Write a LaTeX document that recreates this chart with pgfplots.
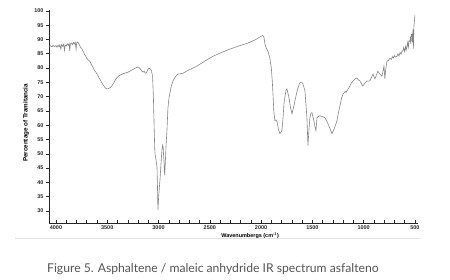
\documentclass[border=0pt]{standalone}
\usepackage{fontspec}
\setmainfont{Liberation Sans}
\newfontfamily\capfont{Lato}
\usepackage{pgfplots}
\pgfplotsset{compat=1.18}
\definecolor{spec}{HTML}{858585}
\definecolor{capgray}{HTML}{555555}
\begin{document}
\begin{tikzpicture}
\path[use as bounding box] (-49bp,-57bp) rectangle (401bp,223bp);
\begin{axis}[
  name=ax, at={(0,0)}, anchor=south west,
  scale only axis, width=369bp, height=213bp,
  x dir=reverse, xmin=470, xmax=4068, ymin=25.8, ymax=100.3,
  axis x line*=bottom, axis y line*=left,
  axis line style={line width=0.7bp, black!85},
  xtick={500,1000,...,4000}, minor x tick num=4,
  ytick={30,35,...,100},
  xtick align=inside, ytick align=outside,
  major tick length=2.5bp, minor tick length=2.5bp,
  tick style={line width=0.5bp, black!85},
  tick label style={font=\bfseries\fontsize{5.5}{6}\selectfont, text=black!85},
  xticklabel style={yshift=0.8bp},
  yticklabel style={xshift=0.5bp},
  /pgf/number format/assume math mode=true,
  /pgf/number format/set thousands separator={},
  xlabel={Wavenumbergs (cm\textsuperscript{-1})},
  xlabel style={at={(axis description cs:0.545,0)}, anchor=north, yshift=-6.5bp, font=\bfseries\fontsize{5.5}{6}\selectfont},
  ylabel={Percentage of Tramitancia},
  ylabel style={at={(ticklabel cs:0.47)}, anchor=south, font=\bfseries\fontsize{6.3}{7}\selectfont, yshift=-1.5bp},
  clip=false,
]
\addplot[spec, line width=0.6bp] coordinates {
(4068,87.6) (4055,87.8) (4040,87.4) (4028,87.9) (4015,87.5) (4000,87.9) (3990,87.3) (3980,88.0) (3970,87.4) (3962,88.1) (3952,86.6) (3945,88.2) (3935,87.6) (3925,88.3) (3917,86.2) (3910,88.0) (3900,87.7) (3890,88.5) (3880,87.9) (3872,88.6) (3866,85.9) (3860,88.4) (3850,88.8) (3840,88.2) (3830,88.9) (3820,88.4) (3812,89.0) (3804,86.6) (3798,88.8) (3788,89.1) (3778,88.6) (3768,87.8) (3758,87.2) (3748,86.8) (3737,85.9) (3728,85.4) (3720,84.6) (3712,84.4) (3700,83.4) (3690,83.0) (3680,82.6) (3669,82.4) (3655,81.2) (3640,80.4) (3625,79.2) (3610,78.5) (3600,77.9) (3585,76.9) (3570,76.0) (3552,74.8) (3535,73.8) (3518,73.0) (3503,72.7) (3488,72.8) (3470,73.2) (3454,73.8) (3435,74.9) (3420,75.9) (3405,76.6) (3385,77.3) (3365,77.7) (3345,78.0) (3320,78.3) (3295,78.6) (3279,78.9) (3260,79.3) (3240,79.7) (3220,80.1) (3205,80.3) (3192,80.2) (3180,79.8) (3168,79.2) (3158,78.8) (3150,78.6) (3140,78.9) (3130,78.2) (3118,78.3) (3108,79.2) (3098,79.8) (3088,79.9) (3078,79.6) (3068,79.0) (3058,77.0) (3050,70.0) (3045,62.6) (3038,53.0) (3035,50.1) (3025,48.0) (3015,45.3) (3010,38.0) (3006,30.3) (2998,35.5) (2986,40.8) (2975,47.0) (2967,51.2) (2960,53.0) (2955,52.5) (2950,49.0) (2947,47.7) (2940,42.5) (2935,46.0) (2925,54.0) (2918,58.1) (2908,66.1) (2898,69.5) (2889,71.3) (2875,73.8) (2859,75.5) (2835,77.0) (2811,77.9) (2785,78.0) (2762,78.2) (2700,79.4) (2625,80.7) (2550,82.4) (2469,84.1) (2390,85.4) (2304,86.6) (2220,87.7) (2138,88.6) (2060,89.8) (2000,91.1) (1985,91.4) (1972,90.8) (1962,88.3) (1950,87.0) (1940,86.2) (1933,85.9) (1915,83.5) (1900,80.0) (1890,75.0) (1884,70.9) (1875,64.5) (1865,61.6) (1855,61.8) (1845,61.3) (1830,58.5) (1816,57.1) (1805,57.6) (1797,58.1) (1785,63.0) (1777,67.5) (1765,70.5) (1755,72.5) (1748,72.7) (1740,71.5) (1728,69.6) (1715,66.5) (1699,64.0) (1685,66.0) (1670,68.5) (1655,71.0) (1641,73.0) (1625,74.6) (1611,75.1) (1600,74.8) (1592,74.4) (1580,73.0) (1572,72.0) (1562,67.0) (1553,62.6) (1543,52.9) (1533,58.5) (1524,62.6) (1514,64.2) (1504,64.4) (1495,63.0) (1485,61.6) (1475,59.5) (1465,58.1) (1455,62.6) (1440,63.1) (1426,63.3) (1400,63.0) (1377,62.6) (1360,61.5) (1348,60.5) (1330,59.0) (1309,57.1) (1290,58.5) (1275,60.0) (1260,61.6) (1245,64.5) (1231,66.8) (1215,69.5) (1202,70.9) (1190,71.3) (1180,71.8) (1170,71.5) (1163,72.0) (1150,72.8) (1140,73.3) (1134,73.7) (1120,74.8) (1100,75.6) (1080,76.3) (1065,76.5) (1050,75.8) (1036,75.5) (1020,74.4) (1007,73.7) (990,74.6) (968,75.5) (955,75.4) (939,75.5) (925,76.6) (909,77.9) (900,77.0) (890,76.2) (875,77.6) (861,78.9) (845,78.0) (822,77.2) (812,78.8) (802,80.7) (793,76.2) (785,79.5) (773,82.4) (760,82.6) (744,83.4) (730,83.0) (720,84.0) (710,83.5) (700,84.3) (690,83.8) (675,84.1) (665,85.0) (655,84.2) (645,85.5) (635,84.8) (625,86.0) (617,85.9) (610,87.2) (600,85.8) (592,87.5) (585,86.3) (578,87.6) (570,89.0) (565,86.8) (558,89.5) (549,89.3) (545,91.0) (540,88.5) (535,91.8) (529,91.8) (525,89.0) (519,93.5) (515,86.8) (510,94.5) (505,96.3) (500,98.5)
};
\end{axis}
\draw[black!12, line width=0.7bp] (-34bp,-15bp) -- (371bp,-15bp);
\node[anchor=base west, inner sep=0pt, text=capgray, font=\capfont\fontsize{12.2}{14}\selectfont] at (-2bp,-49bp) {Figure 5. Asphaltene / maleic anhydride IR spectrum asfalteno};
\end{tikzpicture}
\end{document}
